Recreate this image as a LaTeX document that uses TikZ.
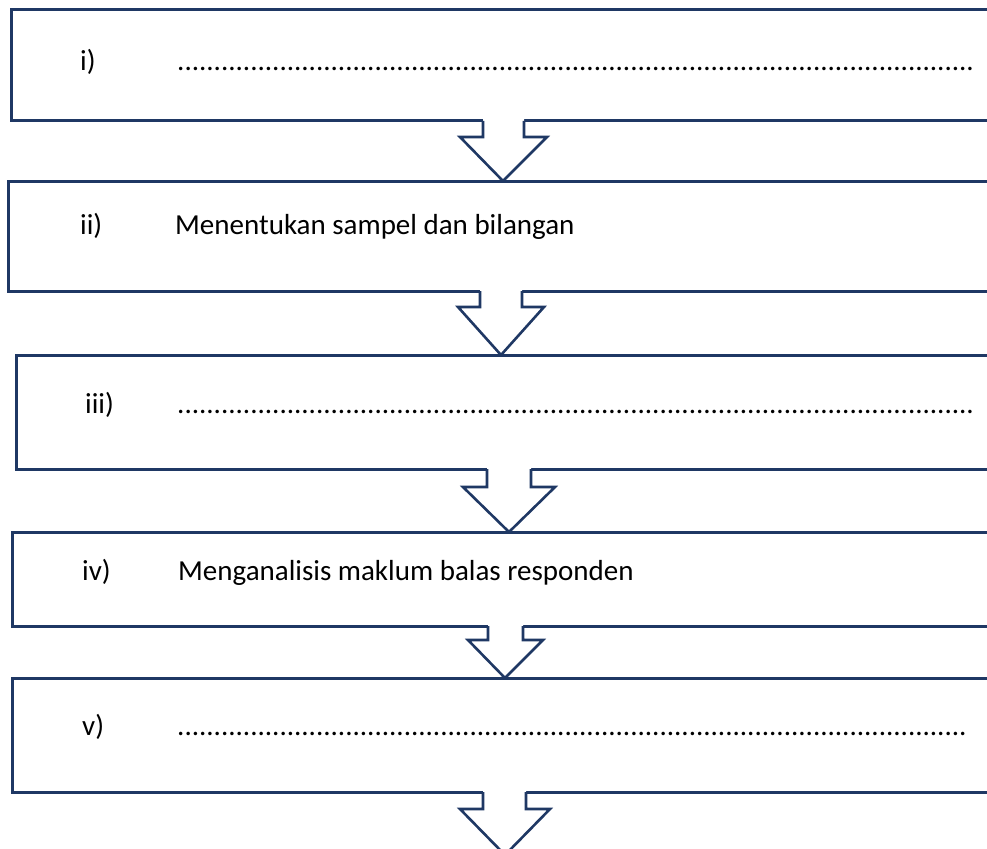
\documentclass[tikz,border=0pt]{standalone}
\usepackage{fontspec}
\setmainfont{Carlito}
\usetikzlibrary{calc}
\definecolor{navy}{HTML}{1F3864}
\tikzset{
  box/.style={draw=navy, line width=3pt, fill=white, rectangle, anchor=north west,
              outer sep=0pt, inner sep=0pt, minimum width=1000pt},
  lbl/.style={anchor=mid west, inner sep=0pt, font=\fontsize{29}{35}\selectfont},
  barrow/.style={draw=navy, line width=2.6pt, line join=miter},
}
\newcommand\dotrow[1]{\foreach \k in {1,...,#1}{.}}
% #1 from node, #2 to node, #3 stem left, #4 stem right, #5 head left, #6 head right, #7 tip x, #8 shoulder depth
\newcommand\blockarrow[8]{%
  \coordinate (sa) at (#3,0 |- #1.south);
  \coordinate (sb) at (#4,0 |- #1.south);
  \coordinate (sl) at ($(sa)+(0,#8)$);
  \coordinate (sr) at ($(sb)+(0,#8)$);
  \coordinate (hl) at (#5,0 |- sl);
  \coordinate (hr) at (#6,0 |- sr);
  \coordinate (tp) at (#7,0 |- #2.north);
  \fill[white] ($(sa)+(0,-3)$) -- (sl) -- (hl) -- (tp) -- (hr) -- (sr) -- ($(sb)+(0,-3)$) -- cycle;
  \draw[barrow] (sa) -- (sl) -- (hl) -- (tp) -- (hr) -- (sr) -- (sb);
}
\begin{document}
\begin{tikzpicture}[x=1pt,y=-1pt]
\useasboundingbox (0,0) rectangle (987,848);
\clip (0,0) rectangle (987,848);
\fill[white] (0,0) rectangle (987,848);

\node[box, minimum height=111pt] (b1) at (11,10) {};
\node[box, minimum height=110pt] (b2) at (8,181) {};
\node[box, minimum height=114pt] (b3) at (16,355) {};
\node[box, minimum height=94pt]  (b4) at (12,532) {};
\node[box, minimum height=114pt] (b5) at (12,678) {};

\node[lbl] (l1) at (80,68) {i)};
\node[lbl] (t1) at (177,68) {\dotrow{109}};
\node[lbl] (l2) at (80,232) {ii)};
\node[lbl] (t2) at (175,232) {Menentukan sampel dan bilangan};
\node[lbl] (l3) at (85,411) {iii)};
\node[lbl] (t3) at (177,411) {\dotrow{109}};
\node[lbl] (l4) at (82,578) {iv)};
\node[lbl] (t4) at (178,578) {Menganalisis maklum balas responden};
\node[lbl] (l5) at (82,733) {v)};
\node[lbl] (t5) at (177,733) {\dotrow{108}};

\blockarrow{b1}{b2}{483}{524}{460}{547}{503}{16}
\blockarrow{b2}{b3}{480}{522}{458}{544}{501}{16}
\blockarrow{b3}{b4}{487}{531}{463}{555}{509}{18}
\blockarrow{b4}{b5}{488}{523}{468}{543}{505}{14}
\coordinate (end) at (505,855);
\blockarrow{b5}{end}{483}{526}{460}{550}{505}{17}
\end{tikzpicture}
\end{document}
